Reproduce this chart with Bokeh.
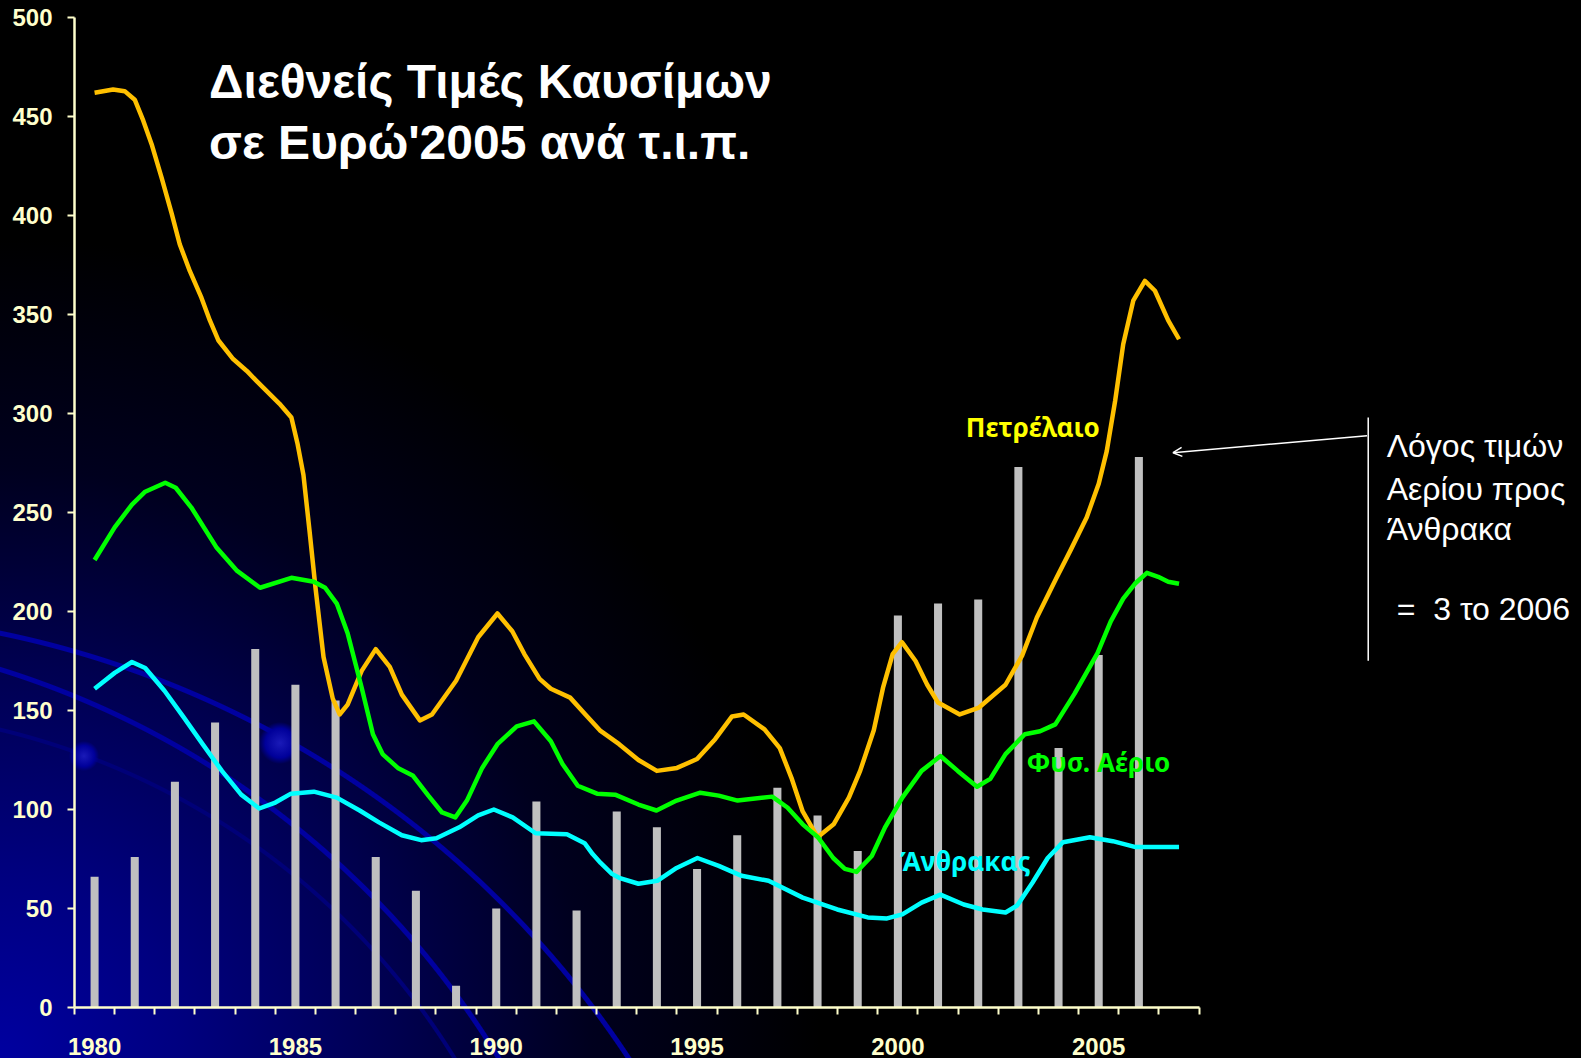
from bokeh.plotting import figure
from bokeh.models import Range1d, FixedTicker, Label, Arrow, OpenHead
from bokeh.embed import file_html
from bokeh.resources import INLINE

# ---- data -------------------------------------------------------------
bar_years = list(range(1980, 2007))
gas_to_coal_ratio = [66, 76, 114, 144, 181, 163, 155, 76, 59, 11, 50, 104, 49,
                     99, 91, 70, 87, 111, 97, 79, 198, 204, 206, 273, 131, 178, 278]

oil_t = [1980.0, 1980.46, 1980.75, 1981.0, 1981.21, 1981.42, 1981.67, 1981.92, 1982.12,
         1982.37, 1982.66, 1982.87, 1983.08, 1983.45, 1983.79, 1984.03, 1984.6, 1984.9,
         1985.05, 1985.2, 1985.35,
         1985.5, 1985.7, 1985.93, 1986.1, 1986.3, 1986.65, 1987.0, 1987.35, 1987.65,
         1988.1, 1988.4, 1989.0, 1989.55, 1990.03, 1990.4, 1990.7, 1991.08, 1991.36,
         1991.84, 1992.22, 1992.58, 1993.06, 1993.54, 1994.0, 1994.5, 1995.0, 1995.45,
         1995.87, 1996.16, 1996.68, 1997.06, 1997.35, 1997.63, 1998.0, 1998.4, 1998.78,
         1999.06, 1999.4, 1999.63, 1999.87, 2000.1, 2000.44, 2000.73, 2001.0, 2001.54,
         2002.02, 2002.68, 2003.1, 2003.46, 2003.95, 2004.3, 2004.7, 2005.0, 2005.2,
         2005.41, 2005.61, 2005.86, 2006.15, 2006.4, 2006.73, 2007.0]
oil_price = [462, 463.6, 462.8, 458.5, 448, 436, 419, 401, 385.5,
             372, 358.5, 347, 337, 327.5, 321.5, 316.5, 305, 298,
             285, 269, 241,
             212, 177, 156, 148, 153, 170, 181, 172, 158,
             145, 148, 165, 187, 199, 190, 178.5, 166, 161,
             156.5, 148, 140, 133, 125, 119.5, 121, 125.5, 135.5,
             147, 148, 140.5, 131, 116, 99, 86, 92.5, 106,
             119.5, 140, 161.5, 178.5, 184.5, 175, 163, 154, 148,
             151.5, 163, 178, 197, 217, 231, 247.5, 264.5, 281,
             306.5, 335, 357, 367, 362, 347, 337.5]

gas_t = [1980.0, 1980.5, 1980.93, 1981.26, 1981.76, 1982.02, 1982.41, 1983.03, 1983.55,
         1984.12, 1984.9, 1985.46, 1985.74, 1986.03, 1986.3, 1986.65, 1986.93, 1987.17,
         1987.55, 1987.93, 1988.31, 1988.65, 1988.98, 1989.27, 1989.65, 1990.03, 1990.51,
         1990.94, 1991.36, 1991.65, 1992.03, 1992.51, 1992.96, 1993.54, 1993.99, 1994.49,
         1995.08, 1995.54, 1996.01, 1996.87, 1997.25, 1997.63, 1998.01, 1998.39, 1998.68,
         1998.97, 1999.35, 1999.68, 2000.11, 2000.59, 2001.06, 2001.49, 2001.97, 2002.3,
         2002.68, 2003.16, 2003.54, 2003.92, 2004.4, 2004.97, 2005.3, 2005.61, 2005.9,
         2006.2, 2006.48, 2006.73, 2007.0]
gas_price = [226, 242.5, 254, 260.5, 265, 262.5, 252.5, 232.5, 220.5,
             212, 217, 215, 212, 204, 189, 161.5, 138, 128,
             121, 117, 107, 98.5, 96, 104.5, 121, 133, 142,
             144.5, 134.5, 123, 112, 108, 107.5, 102.5, 99.5, 104.5,
             108.5, 107, 104.5, 106.5, 101, 92.5, 86, 75.5, 70,
             68.5, 76.5, 91, 106, 119.5, 127, 119.5, 111.5, 115.5,
             128, 138, 139.5, 143, 158.5, 179, 195, 206.5, 214,
             219.5, 217.5, 215, 214]

coal_t = [1980.0, 1980.5, 1980.93, 1981.26, 1981.74, 1982.22, 1982.69, 1983.17, 1983.65,
          1984.1, 1984.5, 1984.89, 1985.46, 1986.03, 1986.6, 1987.08, 1987.65, 1988.13,
          1988.51, 1989.08, 1989.55, 1989.94, 1990.41, 1990.98, 1991.76, 1992.2, 1992.4,
          1992.6, 1992.88, 1993.06, 1993.54, 1994.01, 1994.49, 1995.01, 1995.54, 1996.11,
          1996.78, 1997.63, 1998.49, 1999.25, 1999.73, 2000.11, 2000.59, 2001.06, 2001.64,
          2002.11, 2002.68, 2002.97, 2003.35, 2003.73, 2004.11, 2004.78, 2005.35, 2005.92,
          2007.0]
coal_price = [161, 169, 174.5, 171.5, 160, 146.5, 133, 119.5, 107.5,
              100.5, 103.5, 108, 109, 106, 99.5, 93.5, 87, 84.5,
              85.5, 91, 97, 100, 96, 88, 87.5, 83, 77.5,
              73, 67.5, 65.5, 62.5, 64, 70.5, 75.5, 71.5, 66.5,
              64, 55.5, 49.5, 45.5, 45, 47, 53, 57, 52,
              49.5, 48, 51.5, 63, 75.5, 83.5, 86, 84, 81,
              81]

year_labels = [1980, 1985, 1990, 1995, 2000, 2005]
y_ticks = list(range(0, 501, 50))

title_lines = ["Διεθνείς Τιμές Καυσίμων", "σε Ευρώ'2005 ανά τ.ι.π."]
note_lines = ["Λόγος τιμών", "Αερίου προς", "Άνθρακα", "=\u00a0\u00a03 το 2006"]

# ---- styling ----------------------------------------------------------
AXIS_COL = "#FFFFCC"
OIL_COL = "#FFC000"
GAS_COL = "#00FF00"
COAL_COL = "#00FFFF"
BAR_COL = "#C0C0C0"

ARC = "#0000a0"
background_css = ", ".join([
    # two small blue discs of the slide template
    "radial-gradient(circle 15px at 84px 756px, #1a1ab8 0%, #00009a 70%, rgba(0,0,150,0) 100%)",
    "radial-gradient(circle 21px at 280px 743px, #1a1ab8 0%, #00009a 70%, rgba(0,0,150,0) 100%)",
    # decorative arcs of the slide template
    f"radial-gradient(circle at -199px 1605px, rgba(0,0,0,0) 989px, {ARC} 990px, {ARC} 994px, rgba(0,0,0,0) 995px)",
    f"radial-gradient(circle at -266px 1525px, rgba(0,0,0,0) 893px, {ARC} 894px, {ARC} 898px, rgba(0,0,0,0) 899px)",
    f"radial-gradient(circle at -171px 1445px, rgba(0,0,0,0) 733px, #000078 734px, #000078 737px, rgba(0,0,0,0) 738px)",
    # glow in the lower-left corner
    "radial-gradient(circle 820px at 0px 1058px, #0000a0 0%, #000080 22%, #000050 48%, "
    "#00001e 72%, #000000 100%)",
])

p = figure(width=1581, height=1058, output_backend="svg", toolbar_location=None,
           x_range=Range1d(1979.5, 2017.02), y_range=Range1d(0, 500),
           min_border_left=74, min_border_right=0, min_border_top=17,
           min_border_bottom=51)
p.background_fill_color = None
p.border_fill_color = None
p.outline_line_color = None
p.grid.visible = False
p.styles = {"background": background_css, "background-color": "#000000"}

# x axis
xa = p.xaxis[0]
xa.ticker = FixedTicker(ticks=year_labels,
                        minor_ticks=[1979.5 + i for i in range(29)])
xa.bounds = (1979.5, 2007.5)
xa.axis_line_color = AXIS_COL
xa.axis_line_width = 2.5
xa.major_tick_out = 0
xa.major_tick_in = 0
xa.minor_tick_out = 7
xa.minor_tick_in = 0
xa.minor_tick_line_color = AXIS_COL
xa.minor_tick_line_width = 2
xa.major_label_text_color = AXIS_COL
xa.major_label_text_font = "Liberation Sans"
xa.major_label_text_font_style = "bold"
xa.major_label_text_font_size = "24px"
xa.major_label_text_line_height = 0.6
xa.major_label_standoff = 23

# y axis
ya = p.yaxis[0]
ya.ticker = FixedTicker(ticks=y_ticks)
ya.bounds = (0, 500)
ya.axis_line_color = AXIS_COL
ya.axis_line_width = 2.5
ya.major_tick_out = 7
ya.major_tick_in = 0
ya.major_tick_line_color = AXIS_COL
ya.major_tick_line_width = 2
ya.minor_tick_line_color = None
ya.major_label_text_color = AXIS_COL
ya.major_label_text_font = "Liberation Sans"
ya.major_label_text_font_style = "bold"
ya.major_label_text_font_size = "24px"
ya.major_label_standoff = 15

# bars and lines
p.vbar(x=bar_years, top=gas_to_coal_ratio, width=0.2, fill_color=BAR_COL,
       line_color=None)
p.line(oil_t, oil_price, line_color=OIL_COL, line_width=4.5, line_join="round")
p.line(gas_t, gas_price, line_color=GAS_COL, line_width=4.5, line_join="round")
p.line(coal_t, coal_price, line_color=COAL_COL, line_width=4.5, line_join="round")

# series labels
for txt, x, y, col in [("Πετρέλαιο", 2001.69, 293.2, "#FFFF00"),
                       ("Φυσ. Αέριο", 2003.21, 124.0, GAS_COL),
                       ("Άνθρακας", 2000.05, 73.8, COAL_COL)]:
    p.add_layout(Label(x=x, y=y, text=txt, text_color=col, text_font="Noto Sans",
                       text_font_style="bold", text_font_size="26px",
                       text_baseline="alphabetic", text_align="left"))

# title
for txt, y in zip(title_lines, [467.8, 437.0]):
    p.add_layout(Label(x=1982.85, y=y, text=txt, text_color="white",
                       text_font="Liberation Sans", text_font_style="bold",
                       text_font_size="48px", text_baseline="alphabetic"))

# annotation on the right
p.segment(x0=[2011.71], y0=[175.1], x1=[2011.71], y1=[298.0],
          line_color="white", line_width=1.5)
p.add_layout(Arrow(end=OpenHead(size=9, line_color="white", line_width=1.5),
                   x_start=2011.68, y_start=288.8, x_end=2006.85, y_end=280.2,
                   line_color="white", line_width=1.5))
for txt, x, y in zip(note_lines, [2012.17, 2012.17, 2012.17, 2012.42],
                     [283.6, 261.8, 241.5, 201.4]):
    p.add_layout(Label(x=x, y=y, text=txt, text_color="white",
                       text_font="Liberation Sans", text_font_size="32px",
                       text_baseline="alphabetic"))

open("out.html", "w").write(file_html(p, INLINE))
